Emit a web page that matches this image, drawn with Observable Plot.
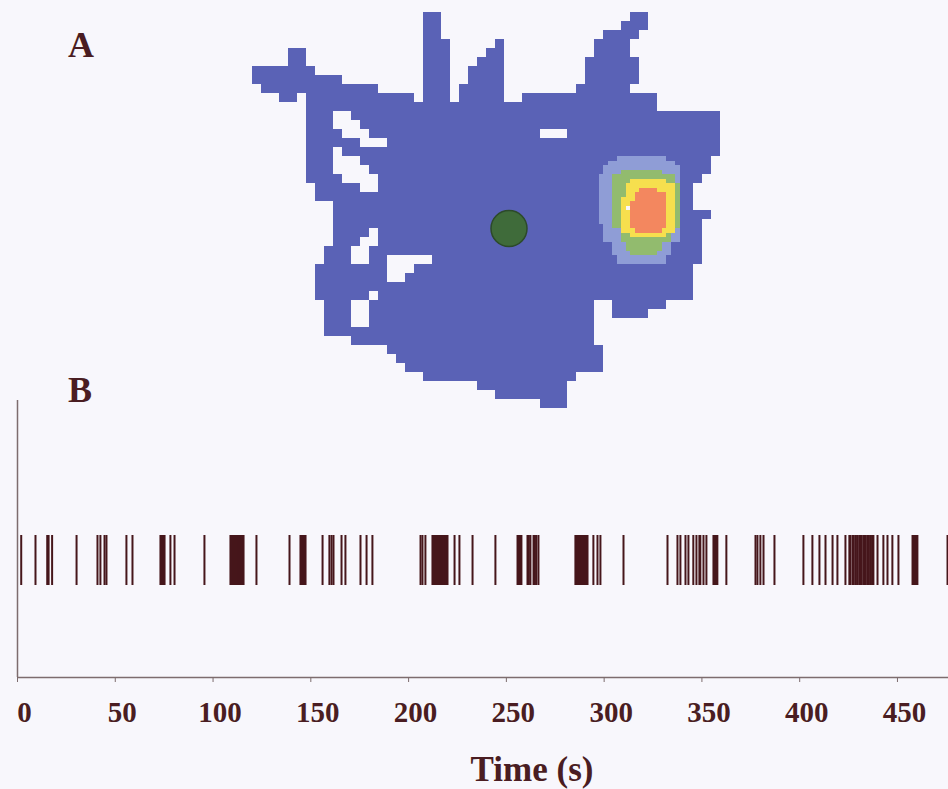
<!DOCTYPE html>
<html>
<head>
<meta charset="utf-8">
<script src="https://cdn.jsdelivr.net/npm/d3@7"></script>
<script src="https://cdn.jsdelivr.net/npm/@observablehq/plot@0.6"></script>
<style>
  body { margin: 0; background: #f8f7fc; }
  #fig { position: relative; width: 948px; height: 789px; overflow: hidden;
         font-family: "Liberation Serif", "Times New Roman", serif; color: #4a1d22; }
  #fig svg { position: absolute; left: 0; background: none; }
  .panel { position: absolute; font-weight: bold; font-size: 36px; line-height: 1; }
</style>
</head>
<body>
<div id="fig">
  <div class="panel" style="left:68px;top:27px">A</div>
  <div class="panel" style="left:68px;top:372px">B</div>
</div>
<script>
// Occupancy map: for each row of the arena grid (top to bottom), the runs of
// visited columns [first, last].
const occupancyRuns = [
  [[19,20],[42,43]],
  [[19,20],[41,43]],
  [[19,20],[39,42]],
  [[19,21],[27,27],[38,41]],
  [[4,5],[19,21],[26,27],[38,41]],
  [[4,5],[19,21],[25,27],[37,42]],
  [[0,6],[19,21],[24,27],[37,42]],
  [[0,9],[19,21],[24,27],[37,42]],
  [[1,13],[19,21],[23,27],[36,41]],
  [[3,4],[6,17],[19,21],[23,27],[30,44]],
  [[6,44]],
  [[6,8],[11,51]],
  [[6,8],[12,51]],
  [[6,9],[13,31],[35,51]],
  [[6,11],[15,51]],
  [[6,8],[10,51]],
  [[6,8],[12,50]],
  [[6,8],[13,50]],
  [[6,9],[14,49]],
  [[7,11],[14,48]],
  [[7,48]],
  [[9,48]],
  [[9,50]],
  [[9,49]],
  [[9,12],[14,49]],
  [[9,11],[14,49]],
  [[8,10],[13,49]],
  [[8,10],[13,14],[20,49]],
  [[7,14],[18,48]],
  [[7,14],[17,48]],
  [[7,48]],
  [[7,12],[14,48]],
  [[8,10],[13,37],[40,45]],
  [[8,10],[13,37],[40,43]],
  [[8,10],[13,37]],
  [[8,37]],
  [[11,37]],
  [[15,38]],
  [[16,38]],
  [[17,38]],
  [[19,35]],
  [[25,34]],
  [[27,34]],
  [[32,34]]
];
const gridColumns = 52;
const gridRows = 44;

// Firing-rate field on a half-cell grid anchored at column 38, row 16.
// 0 = unvisited bin, 1..4 = rising rate bands, "." = below threshold.
const fieldOrigin = {c: 38, r: 16};
const fieldBin = 0.5;
const rateField = [
  ".....11111111111.....",
  "...111111111111111...",
  "..11111111111111111..",
  "..11112222222221111..",
  ".111222222222222221..",
  ".111222233333333221..",
  ".111222333333333332..",
  ".111222333444433332..",
  ".111222334444444332..",
  ".111223334444444332..",
  ".111223344444444332..",
  ".111223044444444332..",
  ".111223344444444332..",
  ".111223344444444332..",
  ".111223344444444332..",
  "..11223344444444332..",
  "..11113334444443331..",
  "..11112233333333211..",
  "..11112222222222211..",
  "....1112222222211....",
  "....1112222222211....",
  "....1111222222111....",
  ".....11111111111.....",
  ".....11111111111....."
];
const rateLevels = ["0", "1", "2", "3", "4"];
const rateColors = ["#f8f7fc", "#8f9dd6", "#92bb6e", "#f6df4e", "#f3875f"];

// Marker drawn in the arena (grid coordinates of its centre).
const landmark = [{c: 28.5, r: 24}];

// Spike times of the unit (s).
const spikeTimes = [
  1.9, 9.2, 15.2, 15.9, 17.7, 30.2, 40.9, 42.4, 44.5, 45.5, 55.7, 58.8,
  73.1, 73.6, 74.1, 74.6, 75.2, 78.2, 80.3, 95.6,
  108.9, 109.4, 109.9, 110.4, 110.9, 111.4, 111.9, 112.4, 112.9, 113.4, 113.9, 114.4, 114.9, 115.6,
  122.2, 139.1, 144.7, 145.2, 145.7, 146.2, 146.7, 147.3,
  156.0, 159.5, 160.6, 161.6, 165.7, 167.7, 175.4, 178.5, 181.5,
  206.1, 207.1, 208.6,
  212.2, 212.7, 213.2, 213.7, 214.2, 214.7, 215.2, 215.7, 216.2, 216.7, 217.2, 217.7, 218.2, 218.7, 219.2, 219.9,
  223.5, 226.0, 232.7, 244.4,
  255.7, 256.2, 256.7, 257.2, 257.7, 260.8, 261.5, 262.3, 263.9, 264.6, 265.3, 266.4,
  285.3, 285.8, 286.3, 286.8, 287.3, 287.8, 288.3, 288.8, 289.3, 289.8, 290.3, 290.9, 291.5,
  294.5, 296.6, 298.1, 309.9,
  332.4, 337.5, 339.0, 341.6, 343.1, 345.6, 347.2, 348.7, 349.2, 350.8, 352.3,
  355.9, 356.4, 356.9, 357.4, 357.9, 362.5,
  377.4, 378.4, 379.9, 381.5, 387.1,
  401.9, 406.5, 410.1, 413.2, 416.8, 419.3, 423.4,
  425.4, 426.0, 427.1, 427.7, 428.7, 429.4, 430.4, 431.2, 431.8, 432.9, 433.6, 434.5, 435.4, 436.2, 437.0, 437.7,
  439.8, 442.8, 444.9, 447.4, 450.5,
  457.7, 458.2, 458.7, 459.2, 459.7, 460.2,
  475.6
];
const timeTicks = [0, 50, 100, 150, 200, 250, 300, 350, 400, 450];
const timeMax = 476.1;
const timeLabel = "Time (s)";

const serif = "Liberation Serif, Times New Roman, serif";
const pathBlue = "#5a62b6";
const textColor = "#4a1d22";
const spikeColor = "#46161b";
const axisColor = "#7d6c6e";

// Expand runs and strings into cell tables.
const visited = occupancyRuns.flatMap((runs, r) =>
  runs.flatMap(([a, b]) => d3.range(a, b + 1).map(c => ({c, r}))));
const fieldCells = rateField.flatMap((row, j) =>
  [...row].flatMap((ch, k) => ch === "." ? [] : [{k, j, level: ch}]));

const fig = document.getElementById("fig");

// Panel A: trajectory occupancy with the place field on top.
const map = Plot.plot({
  width: 948, height: 420,
  marginLeft: 252, marginRight: 228, marginTop: 12, marginBottom: 12,
  x: {domain: [0, gridColumns], axis: null},
  y: {domain: [0, gridRows], reverse: true, axis: null},
  color: {type: "ordinal", domain: rateLevels, range: rateColors},
  marks: [
    Plot.rect(visited, {
      x1: "c", x2: d => d.c + 1, y1: "r", y2: d => d.r + 1,
      fill: pathBlue, shapeRendering: "crispEdges"
    }),
    Plot.rect(fieldCells, {
      x1: d => fieldOrigin.c + d.k * fieldBin, x2: d => fieldOrigin.c + (d.k + 1) * fieldBin,
      y1: d => fieldOrigin.r + d.j * fieldBin, y2: d => fieldOrigin.r + (d.j + 1) * fieldBin,
      fill: "level", shapeRendering: "crispEdges"
    }),
    Plot.dot(landmark, {x: "c", y: "r", r: 18, fill: "#3f6b3a", stroke: "#2c4a2a", strokeWidth: 1.5})
  ]
});
map.style.top = "0px";
fig.appendChild(map);

// Panel B: spike raster against time.
const yDomain = [-1.34, 4.2];
const raster = Plot.plot({
  width: 948, height: 399,
  marginLeft: 17, marginRight: 0, marginTop: 10, marginBottom: 112,
  style: {fontFamily: serif, color: textColor, overflow: "visible"},
  x: {domain: [0, timeMax], axis: null},
  y: {domain: yDomain, axis: null},
  marks: [
    Plot.ruleX([0], {stroke: axisColor, strokeWidth: 1.5}),
    Plot.ruleY([yDomain[0]], {stroke: axisColor, strokeWidth: 1.5}),
    Plot.ruleX(spikeTimes, {x: d => d, y1: 0.5, y2: 1.5, stroke: spikeColor, strokeWidth: 2}),
    Plot.axisX(timeTicks, {tickSize: 5, tickFormat: () => "", stroke: axisColor, label: null}),
    Plot.axisX(timeTicks, {
      tickSize: 0, tickPadding: 24, dx: 7, label: null,
      fontSize: 29, fontWeight: "bold", fontFamily: serif, fill: textColor
    }),
    Plot.text([timeLabel], {
      frameAnchor: "bottom", dx: 49, dy: 103,
      fontSize: 35, fontWeight: "bold", fontFamily: serif, fill: textColor
    })
  ]
});
raster.style.top = "390px";
fig.appendChild(raster);
</script>
</body>
</html>
